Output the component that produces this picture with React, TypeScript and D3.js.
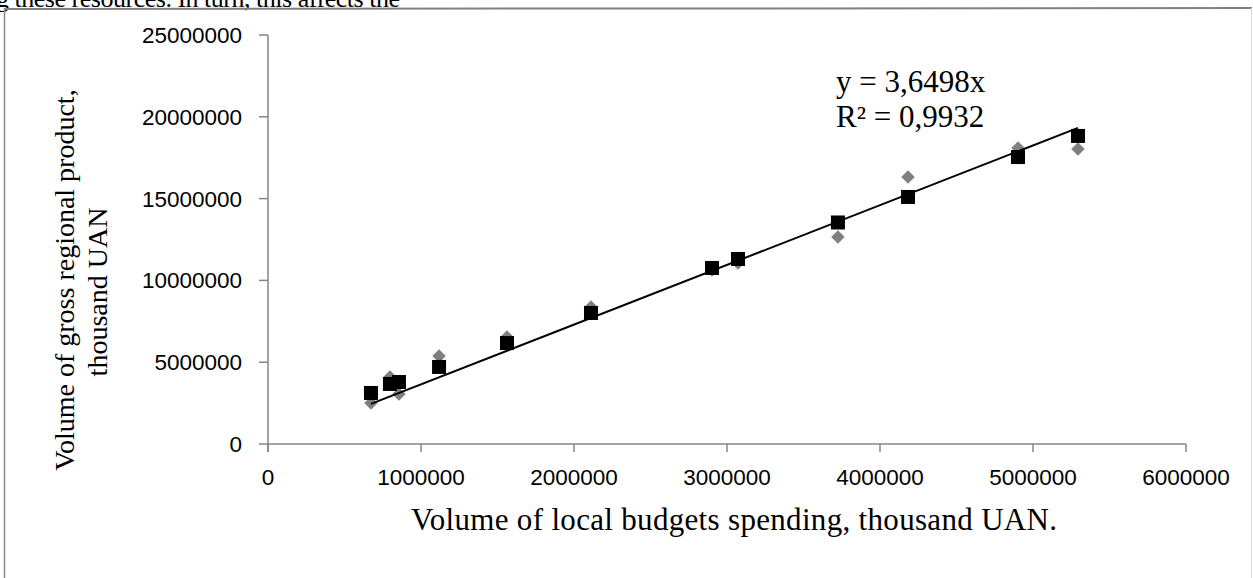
import React from "react";
import * as d3 from "d3";

const spending = [673000, 797000, 856000, 1118000, 1562000, 2111000, 2902000, 3072000, 3725000, 4183000, 4902000, 5294000];
const grpActual = [2510000, 4100000, 3060000, 5380000, 6540000, 8370000, 10640000, 11060000, 12650000, 16320000, 18090000, 18030000];
const grpModel = [3120000, 3670000, 3790000, 4710000, 6170000, 8010000, 10760000, 11310000, 13540000, 15100000, 17540000, 18830000];
const xTicks = [0, 1000000, 2000000, 3000000, 4000000, 5000000, 6000000];
const yTicks = [0, 5000000, 10000000, 15000000, 20000000, 25000000];
const trendSlope = 3.6498;
const equationText = "y = 3,6498x";
const r2Text = "R² = 0,9932";
const xTitle = "Volume of local budgets spending, thousand UAN.";
const yTitle1 = "Volume of gross regional product,";
const yTitle2 = "thousand UAN";
const topText = "g these resources. In turn, this affects the";

export default function App() {
  const W = 1253, H = 578;
  const x = d3.scaleLinear().domain([0, 6000000]).range([268, 1186]);
  const y = d3.scaleLinear().domain([0, 25000000]).range([444, 35]);
  const axisColor = "#868686";
  const tickFont = "'Liberation Sans', Arial, sans-serif";
  const serif = "'Liberation Serif', 'Times New Roman', serif";
  const xMin = d3.min(spending) as number;
  const xMax = d3.max(spending) as number;
  const trend = d3.line<number>().x((d) => x(d)).y((d) => y(d * trendSlope));
  const diamond = d3.symbol().type(d3.symbolDiamond2).size(115)();
  const sq = 14;

  return (
    <svg width={W} height={H} style={{ position: "fixed", left: 0, top: 0, background: "#fff" }}>
      <rect x={0} y={0} width={W} height={H} fill="#fff" />
      <text x={-4} y={7} fontFamily={serif} fontSize={26} textLength={404} fill="#000">{topText}</text>
      {/* frame */}
      <line x1={4} y1={9} x2={1252} y2={8} stroke="#808080" strokeWidth={2} />
      <line x1={4.5} y1={8} x2={4.5} y2={H} stroke="#8c8c8c" strokeWidth={1.5} />
      <line x1={1251.5} y1={8} x2={1251.5} y2={H} stroke="#d9d9d9" strokeWidth={1} />

      {/* axes */}
      <line x1={x(0)} y1={y(0)} x2={x(6000000)} y2={y(0)} stroke={axisColor} strokeWidth={1.5} />
      <line x1={x(0)} y1={y(0) + 8} x2={x(0)} y2={y(25000000)} stroke={axisColor} strokeWidth={1.5} />
      {xTicks.map((t) => (
        <g key={"xt" + t}>
          <line x1={x(t)} x2={x(t)} y1={y(0)} y2={y(0) + 8} stroke={axisColor} strokeWidth={1.5} />
          <text x={x(t)} y={485} textAnchor="middle" fontFamily={tickFont} fontSize={22.5} fill="#000">{t}</text>
        </g>
      ))}
      {yTicks.map((t) => (
        <g key={"yt" + t}>
          <line x1={x(0) - 9} x2={x(0)} y1={y(t)} y2={y(t)} stroke={axisColor} strokeWidth={1.5} />
          <text x={242} y={y(t) + 8} textAnchor="end" fontFamily={tickFont} fontSize={22.5} fill="#000">{t}</text>
        </g>
      ))}

      {/* series */}
      {spending.map((s, i) => (
        <path key={"d" + i} d={diamond} transform={`translate(${x(s)},${y(grpActual[i])})`} fill="#808080" />
      ))}
      {spending.map((s, i) => (
        <rect key={"s" + i} x={x(s) - sq / 2} y={y(grpModel[i]) - sq / 2} width={sq} height={sq} fill="#000" />
      ))}
      <path d={trend([xMin, xMax]) as string} stroke="#000" strokeWidth={2} fill="none" />

      {/* equation */}
      <text x={836} y={92} fontFamily={serif} fontSize={31} fill="#000">{equationText}</text>
      <text x={836} y={127} fontFamily={serif} fontSize={31} fill="#000">{r2Text}</text>

      {/* axis titles */}
      <text x={411} y={530} fontFamily={serif} fontSize={31} textLength={646} fill="#000">{xTitle}</text>
      <text transform="translate(74,280) rotate(-90)" textAnchor="middle" fontFamily={serif} fontSize={28} fill="#000">{yTitle1}</text>
      <text transform="translate(107,292) rotate(-90)" textAnchor="middle" fontFamily={serif} fontSize={28} fill="#000">{yTitle2}</text>
    </svg>
  );
}
